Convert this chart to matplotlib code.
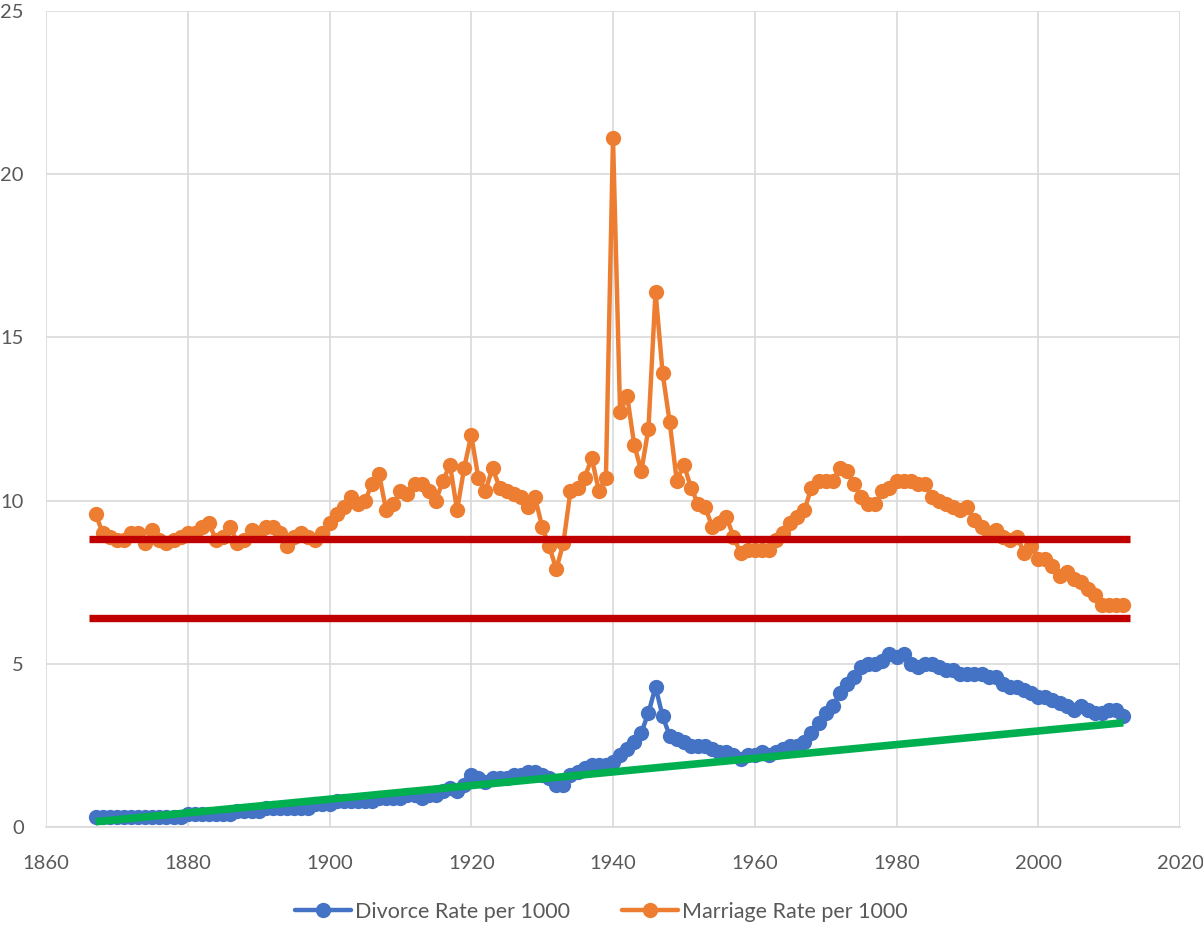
import matplotlib
matplotlib.use("Agg")
import matplotlib.pyplot as plt
import numpy as np

years = list(range(1867, 2013))

divorce_rate = [
    0.3, 0.3, 0.3, 0.3, 0.3, 0.3, 0.3, 0.3, 0.3, 0.3, 0.3, 0.3, 0.3,   # 1867-1879
    0.4, 0.4, 0.4, 0.4, 0.4, 0.4, 0.4,                                # 1880-1886
    0.5, 0.5, 0.5, 0.5,                                               # 1887-1890
    0.6, 0.6, 0.6, 0.6, 0.6, 0.6, 0.6,                                # 1891-1897
    0.7, 0.7, 0.7,                                                    # 1898-1900
    0.8, 0.8, 0.8, 0.8, 0.8, 0.8,                                     # 1901-1906
    0.9, 0.9, 0.9, 0.9,                                               # 1907-1910
    1.0, 1.0, 0.9, 1.0, 1.0, 1.1, 1.2, 1.1, 1.3,                      # 1911-1919
    1.6, 1.5, 1.4, 1.5, 1.5, 1.5, 1.6, 1.6, 1.7, 1.7,                 # 1920s
    1.6, 1.5, 1.3, 1.3, 1.6, 1.7, 1.8, 1.9, 1.9, 1.9,                 # 1930s
    2.0, 2.2, 2.4, 2.6, 2.9, 3.5, 4.3, 3.4, 2.8, 2.7,                 # 1940s
    2.6, 2.5, 2.5, 2.5, 2.4, 2.3, 2.3, 2.2, 2.1, 2.2,                 # 1950s
    2.2, 2.3, 2.2, 2.3, 2.4, 2.5, 2.5, 2.6, 2.9, 3.2,                 # 1960s
    3.5, 3.7, 4.1, 4.4, 4.6, 4.9, 5.0, 5.0, 5.1, 5.3,                 # 1970s
    5.2, 5.3, 5.0, 4.9, 5.0, 5.0, 4.9, 4.8, 4.8, 4.7,                 # 1980s
    4.7, 4.7, 4.7, 4.6, 4.6, 4.4, 4.3, 4.3, 4.2, 4.1,                 # 1990s
    4.0, 4.0, 3.9, 3.8, 3.7, 3.6, 3.7, 3.6, 3.5, 3.5,                 # 2000s
    3.6, 3.6, 3.4,                                                    # 2010-2012
]

marriage_rate = [
    9.6, 9.0, 8.9,                                                    # 1867-1869
    8.8, 8.8, 9.0, 9.0, 8.7, 9.1, 8.8, 8.7, 8.8, 8.9,                 # 1870s
    9.0, 9.0, 9.2, 9.3, 8.8, 8.9, 9.2, 8.7, 8.8, 9.1,                 # 1880s
    9.0, 9.2, 9.2, 9.0, 8.6, 8.9, 9.0, 8.9, 8.8, 9.0,                 # 1890s
    9.3, 9.6, 9.8, 10.1, 9.9, 10.0, 10.5, 10.8, 9.7, 9.9,             # 1900s
    10.3, 10.2, 10.5, 10.5, 10.3, 10.0, 10.6, 11.1, 9.7, 11.0,        # 1910s
    12.0, 10.7, 10.3, 11.0, 10.4, 10.3, 10.2, 10.1, 9.8, 10.1,        # 1920s
    9.2, 8.6, 7.9, 8.7, 10.3, 10.4, 10.7, 11.3, 10.3, 10.7,           # 1930s
    21.1, 12.7, 13.2, 11.7, 10.9, 12.2, 16.4, 13.9, 12.4, 10.6,       # 1940s
    11.1, 10.4, 9.9, 9.8, 9.2, 9.3, 9.5, 8.9, 8.4, 8.5,               # 1950s
    8.5, 8.5, 8.5, 8.8, 9.0, 9.3, 9.5, 9.7, 10.4, 10.6,               # 1960s
    10.6, 10.6, 11.0, 10.9, 10.5, 10.1, 9.9, 9.9, 10.3, 10.4,         # 1970s
    10.6, 10.6, 10.6, 10.5, 10.5, 10.1, 10.0, 9.9, 9.8, 9.7,          # 1980s
    9.8, 9.4, 9.2, 9.0, 9.1, 8.9, 8.8, 8.9, 8.4, 8.6,                 # 1990s
    8.2, 8.2, 8.0, 7.7, 7.8, 7.6, 7.5, 7.3, 7.1, 6.8,                 # 2000s
    6.8, 6.8, 6.8,                                                    # 2010-2012
]

# green trend line (endpoints)
trend_years = [1867, 2012]
trend_values = [0.17, 3.2]

# red reference lines
red_levels = [8.83, 6.42]
red_span = [1866.1, 2013.0]

x_ticks = [1860, 1880, 1900, 1920, 1940, 1960, 1980, 2000, 2020]
y_ticks = [0, 5, 10, 15, 20, 25]

series_names = ["Divorce Rate per 1000", "Marriage Rate per 1000"]

BLUE = "#4472C4"
ORANGE = "#ED7D31"
RED = "#C00000"
GREEN = "#00B050"
GRID = "#D9D9D9"
TXT = "#595959"

plt.rcParams["font.family"] = ["Lato", "DejaVu Sans"]

fig = plt.figure(figsize=(12.03, 9.25), dpi=100)
ax = fig.add_axes([46 / 1203, 1 - 827.3 / 925, (1180 - 46) / 1203, (827.3 - 10.6) / 925])

ax.plot(years, divorce_rate, color=BLUE, lw=3.2, marker="o", ms=11,
        markeredgewidth=0, label=series_names[0], zorder=3, solid_capstyle="round")
ax.plot(years, marriage_rate, color=ORANGE, lw=3.2, marker="o", ms=11,
        markeredgewidth=0, label=series_names[1], zorder=3, solid_capstyle="round")

ax.plot(trend_years, trend_values, color=GREEN, lw=5.5, zorder=4, solid_capstyle="butt")

for lvl in red_levels:
    ax.plot(red_span, [lvl, lvl], color=RED, lw=5.3, zorder=5, solid_capstyle="butt")

ax.set_xlim(1860, 2020)
ax.set_ylim(0, 25)
ax.set_xticks(x_ticks)
ax.set_yticks(y_ticks)
ax.grid(True, color=GRID, lw=1.2)
ax.set_axisbelow(True)
for s in ["top", "right", "left"]:
    ax.spines[s].set_visible(False)
ax.spines["bottom"].set_color(GRID)
ax.spines["bottom"].set_linewidth(1.2)
ax.tick_params(axis="both", length=0, colors=TXT, labelsize=14.5)
ax.tick_params(axis="x", pad=20)
ax.tick_params(axis="y", pad=16)

leg = fig.legend(loc="center", bbox_to_anchor=(0.5, 1 - 912 / 925), ncol=2,
                 frameon=False, fontsize=15.5, labelcolor=TXT, handlelength=2.6,
                 columnspacing=2.4, handletextpad=0.2)

fig.savefig("out.png", dpi=100)
